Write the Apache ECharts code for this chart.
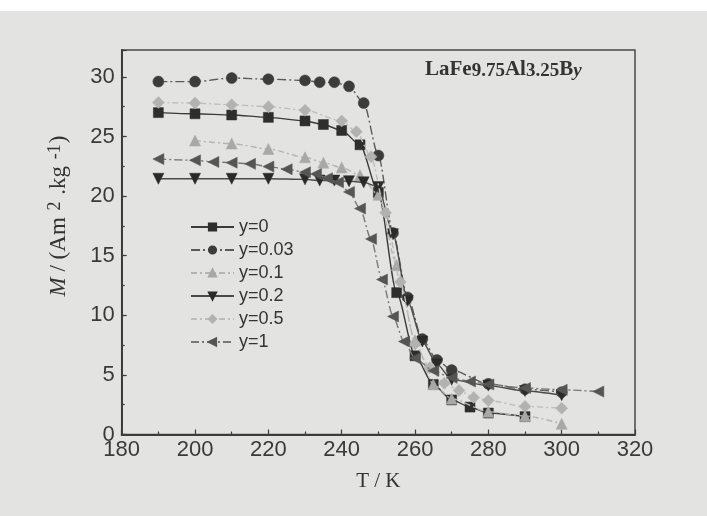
<!DOCTYPE html>
<html>
<head>
<meta charset="utf-8">
<title>LaFe9.75Al3.25By magnetization</title>
<script src="https://cdn.jsdelivr.net/npm/echarts@6/dist/echarts.min.js"></script>
<style>
  html, body { margin: 0; padding: 0; background: #e3e3e1; }
  #chart { width: 707px; height: 516px; }
</style>
</head>
<body>
<div id="chart"></div>
<script>
// Magnetization M (Am^2/kg) versus temperature T (K) for LaFe9.75Al3.25By
const seriesNames = ['y=0', 'y=0.03', 'y=0.1', 'y=0.2', 'y=0.5', 'y=1'];

const tempY0 = [190, 200, 210, 220, 230, 235, 240, 245, 250, 255, 260, 265, 270, 275, 280, 290];
const magY0  = [27.0, 26.9, 26.8, 26.6, 26.3, 26.0, 25.5, 24.3, 20.3, 11.9, 6.6, 4.2, 2.9, 2.3, 1.8, 1.5];

const tempY003 = [190, 200, 210, 220, 230, 234, 238, 242, 246, 250, 254, 258, 262, 266, 270, 280, 290, 300];
const magY003  = [29.6, 29.6, 29.9, 29.8, 29.7, 29.55, 29.55, 29.2, 27.8, 23.4, 16.9, 11.5, 8.0, 6.25, 5.4, 4.25, 3.8, 3.55];

const tempY01 = [200, 210, 220, 230, 235, 240, 245, 250, 255, 260, 265, 270, 280, 290, 300];
const magY01  = [24.65, 24.4, 23.95, 23.25, 22.8, 22.4, 21.75, 20.1, 14.2, 7.9, 4.2, 3.0, 1.9, 1.55, 0.9];

const tempY02 = [190, 200, 210, 220, 230, 234, 238, 242, 246, 250, 254, 258, 262, 266, 270, 280, 290, 300];
const magY02  = [21.45, 21.45, 21.45, 21.45, 21.4, 21.3, 21.3, 21.25, 21.15, 20.75, 16.8, 11.2, 7.8, 5.9, 4.6, 4.1, 3.65, 3.3];

const tempY05 = [190, 200, 210, 220, 230, 240, 244, 248, 252, 256, 260, 264, 268, 272, 276, 280, 290, 300];
const magY05  = [27.85, 27.8, 27.65, 27.5, 27.2, 26.3, 25.4, 23.3, 18.6, 12.8, 7.6, 5.6, 4.3, 3.7, 3.1, 2.85, 2.35, 2.2];

const tempY1 = [190, 200, 205, 210, 215, 220, 225, 230, 233, 236, 239, 242, 245, 248, 251, 254, 257, 260, 265, 270, 275, 280, 290, 300, 310];
const magY1  = [23.1, 23.0, 22.86, 22.8, 22.7, 22.47, 22.25, 22.0, 21.85, 21.5, 21.15, 20.35, 18.95, 16.4, 13.0, 9.9, 7.8, 6.4, 5.35, 4.75, 4.45, 4.2, 3.9, 3.75, 3.6];

const xTickMin = 180, xTickMax = 320, xTickStep = 20;
const yTickMin = 0, yTickStep = 5;

const zip = (t, m) => t.map((v, i) => [v, m[i]]);

const styles = [
  { symbol: 'rect',     rotate: 0,   size: 10, mark: '#2e2e2e', line: '#3a3a3a', type: 'solid' },
  { symbol: 'circle',   rotate: 0,   size: 11, mark: '#3c3c3c', line: '#5a5a5a', type: [9, 3, 2, 3] },
  { symbol: 'triangle', rotate: 0,   size: 11, mark: '#a8a8a8', line: '#b4b4b4', type: [6, 3, 2, 3] },
  { symbol: 'triangle', rotate: 180, size: 11, mark: '#2a2a2a', line: '#4a4a4a', type: 'solid' },
  { symbol: 'diamond',  rotate: 0,   size: 12, mark: '#b2b2b2', line: '#bdbdbd', type: [6, 3, 2, 3] },
  { symbol: 'triangle', rotate: 90,  size: 11, mark: '#555555', line: '#777777', type: [8, 3, 2, 3] }
];
const seriesData = [
  zip(tempY0, magY0), zip(tempY003, magY003), zip(tempY01, magY01),
  zip(tempY02, magY02), zip(tempY05, magY05), zip(tempY1, magY1)
];

const axisColor = '#3c3c3c';
const sans = '"Liberation Sans", Arial, sans-serif';
const serif = '"Liberation Serif", "Times New Roman", serif';

const chart = echarts.init(document.getElementById('chart'), null, { renderer: 'canvas' });

chart.setOption({
  backgroundColor: '#e3e3e1',
  animation: false,
  grid: {
    left: 121.7, right: 72, top: 50, bottom: 81.5,
    show: true, borderColor: '#4a4a4a', borderWidth: 1.5, backgroundColor: 'transparent'
  },
  legend: {
    orient: 'vertical',
    left: 185, top: 213,
    itemWidth: 43, itemHeight: 9, itemGap: 5,
    data: seriesNames,
    textStyle: { fontFamily: sans, fontSize: 18, color: '#333', lineHeight: 18 }
  },
  xAxis: {
    type: 'value',
    min: xTickMin, max: xTickMax, interval: xTickStep,
    name: 'T / K', nameLocation: 'middle', nameGap: 36,
    nameTextStyle: { fontFamily: serif, fontSize: 21, color: '#333' },
    axisLine: { lineStyle: { color: axisColor, width: 2 } },
    axisTick: { inside: true, length: 5, lineStyle: { color: axisColor, width: 1.2 } },
    minorTick: { show: true, splitNumber: 2, length: 3, lineStyle: { color: axisColor, width: 1.2 } },
    axisLabel: { fontFamily: sans, fontSize: 22, color: '#3a3a3a', margin: 4 },
    splitLine: { show: false }
  },
  yAxis: [
    {
      type: 'value',
      min: yTickMin, max: 32.25, interval: yTickStep,
      position: 'left',
      axisLine: { show: true, lineStyle: { color: axisColor, width: 2 } },
      axisTick: { inside: true, length: 5, lineStyle: { color: axisColor, width: 1.2 } },
      axisLabel: {
        fontFamily: sans, fontSize: 22, color: '#3a3a3a', margin: 7,
        formatter: v => (v % yTickStep === 0 ? String(v) : '')
      },
      splitLine: { show: false }
    },
    {
      // minor ticks every 2.5 on the same left edge
      type: 'value',
      min: yTickMin, max: 32.25, interval: yTickStep / 2,
      position: 'left', offset: 0,
      axisLine: { show: false },
      axisTick: { show: true, inside: true, length: 3, lineStyle: { color: axisColor, width: 1.2 } },
      axisLabel: { show: false },
      splitLine: { show: false }
    }
  ],
  graphic: [
    { type: 'rect', left: 0, top: 0, shape: { width: 707, height: 11 }, style: { fill: '#ffffff' }, silent: true },
    {
      type: 'text', x: 58, y: 216, rotation: Math.PI / 2,
      style: {
        text: '{i|M}{n| / (Am }{p|2}{n| .kg }{p|-1}{n|)}',
        align: 'center', verticalAlign: 'middle',
        fill: '#333',
        rich: {
          i: { fontFamily: serif, fontStyle: 'italic', fontSize: 23, fill: '#333', lineHeight: 24, padding: [7, 0, 0, 0], verticalAlign: 'bottom' },
          n: { fontFamily: serif, fontSize: 23, fill: '#333', lineHeight: 24, padding: [7, 0, 0, 0], verticalAlign: 'bottom' },
          p: { fontFamily: serif, fontSize: 18, fill: '#333', lineHeight: 18, verticalAlign: 'top', padding: [0, 1, 0, 1] }
        }
      }
    },
    {
      type: 'text', left: 425, top: 53,
      style: {
        text: '{b|LaFe}{s|9.75}{b|Al}{s|3.25}{b|B}{y|y}',
        fill: '#333',
        rich: {
          b: { fontFamily: serif, fontWeight: 'bold', fontSize: 21, fill: '#333', lineHeight: 22, verticalAlign: 'top' },
          s: { fontFamily: serif, fontWeight: 'bold', fontSize: 19, fill: '#333', lineHeight: 20, padding: [9, 0, 0, 0], verticalAlign: 'bottom' },
          y: { fontFamily: serif, fontWeight: 'bold', fontStyle: 'italic', fontSize: 19, fill: '#333', lineHeight: 20, padding: [9, 0, 0, 0], verticalAlign: 'bottom' }
        }
      }
    }
  ],
  series: seriesNames.map((name, i) => ({
    name,
    type: 'line',
    xAxisIndex: 0,
    yAxisIndex: 0,
    data: seriesData[i],
    symbol: styles[i].symbol,
    symbolRotate: styles[i].rotate,
    symbolSize: styles[i].size,
    showAllSymbol: true,
    smooth: 0.25,
    smoothMonotone: 'x',
    z: 2 + i,
    itemStyle: { color: styles[i].mark, borderColor: styles[i].mark, borderWidth: 0.5 },
    lineStyle: { color: styles[i].line, width: 1.4, type: styles[i].type }
  }))
});
</script>
</body>
</html>
